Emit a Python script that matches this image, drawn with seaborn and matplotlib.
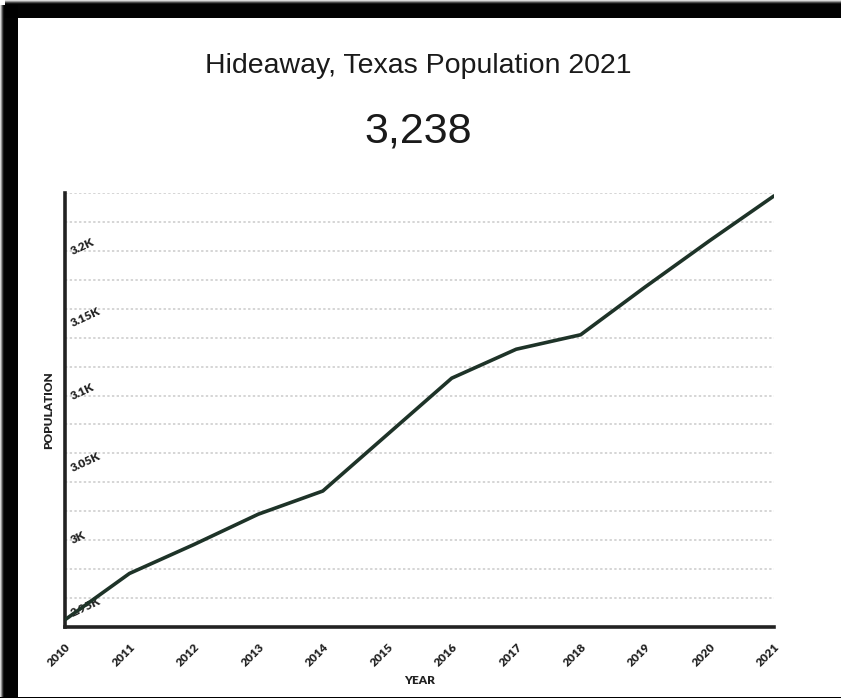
import numpy as np
import pandas as pd
import seaborn as sns
import matplotlib
matplotlib.use("Agg")
import matplotlib.pyplot as plt
from matplotlib.patches import Rectangle

# ------------------------------------------------------------
# Data
# ------------------------------------------------------------
years = [2010, 2011, 2012, 2013, 2014, 2015, 2016, 2017, 2018, 2019, 2020, 2021]
population = [2945, 2977, 2997, 3018, 3034, 3073, 3112, 3132, 3142, 3175, 3207, 3238]

ytick_values = [2950, 3000, 3050, 3100, 3150, 3200, 3240]
ytick_labels = ["2.95K", "3K", "3.05K", "3.1K", "3.15K", "3.2K", ""]
grid_values = [2960, 2980, 3000, 3020, 3040, 3060, 3080, 3100, 3120,
               3140, 3160, 3180, 3200, 3220, 3240]

title_text = "Hideaway, Texas Population 2021"
headline_text = "3,238"

df = pd.DataFrame({"year": years, "population": population})

sns.set_style("white")
plt.rcParams["font.family"] = ["Liberation Sans", "DejaVu Sans"]

W, H = 841, 698
fig = plt.figure(figsize=(W / 100, H / 100), dpi=100)
fig.patch.set_facecolor("white")

# axes placed in pixel terms
left, right, top, bottom = 65, 774, 193, 627
ax = fig.add_axes([left / W, 1 - bottom / H, (right - left) / W, (bottom - top) / H])

# dotted horizontal gridlines
for g in grid_values:
    ax.axhline(g, color="#d2d2d2", linewidth=1.3, linestyle=(0, (1.3, 1.3)), zorder=0)

sns.lineplot(data=df, x="year", y="population", color="#1e3328",
             linewidth=2.6, ax=ax, zorder=3)

ax.set_xlim(2010, 2021)
ax.set_ylim(2940, 3240)

# spines
for side in ["top", "right"]:
    ax.spines[side].set_visible(False)
for side in ["left", "bottom"]:
    ax.spines[side].set_color("#222222")
    ax.spines[side].set_linewidth(2.6)

tick_font = dict(family=["Lato", "DejaVu Sans"], weight="heavy", size=8.5, color="#222222")

# x ticks
ax.set_xticks(years)
ax.set_xticklabels([str(y) for y in years], rotation=45, ha="right",
                   rotation_mode="anchor", **tick_font)
ax.tick_params(axis="x", direction="out", length=7, width=2.4, color="#222222", pad=3)

# y ticks (inside, labels to the right of the spine)
ax.set_yticks(ytick_values)
ax.set_yticklabels(ytick_labels, rotation=25, ha="left",
                   rotation_mode="anchor", **tick_font)
ax.tick_params(axis="y", direction="in", length=5, width=2.4, color="#222222", pad=-4)

label_font = dict(family=["Lato", "DejaVu Sans"], weight="heavy", size=8.5, color="#222222")
ax.set_xlabel("YEAR", fontdict=label_font, labelpad=5)
ax.set_ylabel("POPULATION", fontdict=label_font, labelpad=8)

# titles
fig.text(418 / W, 1 - 66 / H, title_text, ha="center", va="center",
         fontsize=20.5, color="#1a1a1a")
fig.text(418 / W, 1 - 131 / H, headline_text, ha="center", va="center",
         fontsize=31, color="#1a1a1a")

# black frame with soft edge (left and top), thin line at bottom
for i, a in enumerate([0.15, 0.3, 0.5, 0.7, 0.9]):
    fig.add_artist(Rectangle((i / W, 0), (18 - i) / W, 1 - 5 / H,
                             transform=fig.transFigure, color="black", alpha=a, lw=0))
    fig.add_artist(Rectangle((5 / W, 1 - 18 / H), 1, (18 - i) / H,
                             transform=fig.transFigure, color="black", alpha=a, lw=0))
fig.add_artist(Rectangle((0, 0), 1, 1.5 / H, transform=fig.transFigure,
                         color="black", lw=0))

plt.savefig("out.png", dpi=100)
plt.close()
